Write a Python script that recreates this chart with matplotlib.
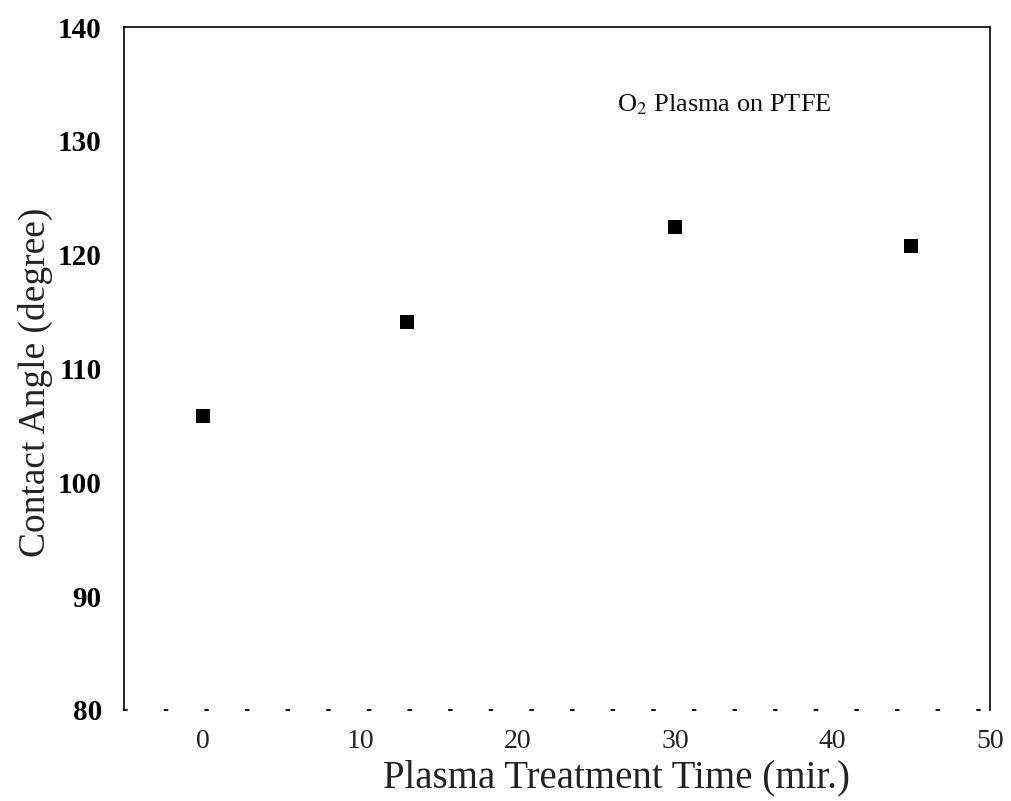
import matplotlib
matplotlib.use("Agg")
import matplotlib.pyplot as plt

# Contact angle of PTFE vs O2 plasma treatment time
time_min = [0, 13, 30, 45]
contact_angle = [105.8, 114.1, 122.4, 120.8]

x_ticks = [0, 10, 20, 30, 40, 50]
y_ticks = [80, 90, 100, 110, 120, 130, 140]

plt.rcParams["font.family"] = ["Liberation Serif", "DejaVu Serif"]
plt.rcParams["mathtext.fontset"] = "stix"

fig = plt.figure(figsize=(10.11, 8.01), dpi=100)
ax = fig.add_axes([124 / 1011, 1 - 710 / 801, 866 / 1011, 683 / 801])

ax.plot(time_min, contact_angle, "s", color="black", markersize=10,
        markeredgewidth=0)

ax.set_xlim(-5, 50)
ax.set_ylim(80, 140)
ax.set_xticks(x_ticks)
ax.set_yticks(y_ticks)
ax.set_xticklabels([str(t) for t in x_ticks], fontsize=20, color="#222")
ax.set_yticklabels([str(t) for t in y_ticks], fontsize=21, fontweight="bold")
ax.tick_params(axis="both", length=0)
ax.tick_params(axis="y", pad=16)
ax.tick_params(axis="x", pad=14)

for side in ("left", "top", "right"):
    ax.spines[side].set_linewidth(1.2)
    ax.spines[side].set_color("black")
ax.spines["bottom"].set_linewidth(1.3)
ax.spines["bottom"].set_linestyle((0, (1.5, 21)))

ax.set_xlabel("Plasma Treatment Time (mir.)", fontsize=28, color="#222")
ax.xaxis.set_label_coords(0.569, -0.072)
ax.set_ylabel("Contact Angle (degree)", fontsize=27, color="#222")
ax.yaxis.set_label_coords(-0.082, 0.48)

ax.text(26.3, 133.2, r"O$_2$ Plasma on PTFE", fontsize=19,
        ha="left", va="center", color="#111")

fig.savefig("out.png", dpi=100, facecolor="white")
